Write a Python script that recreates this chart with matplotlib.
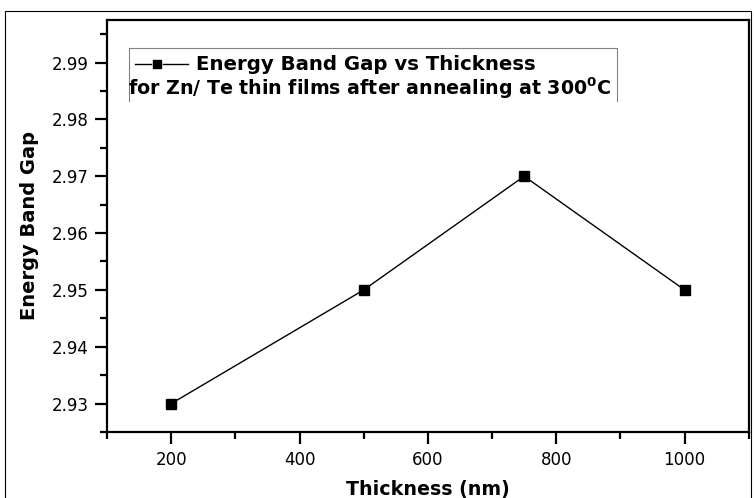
import matplotlib
matplotlib.use('Agg')
import matplotlib.pyplot as plt
from matplotlib.patches import Rectangle
from matplotlib.ticker import MultipleLocator

plt.rcParams['font.family'] = ['DejaVu Sans']

# data
thickness = [200, 500, 750, 1000]
band_gap = [2.93, 2.95, 2.97, 2.95]
x_ticks = [200, 400, 600, 800, 1000]
y_ticks = [2.93, 2.94, 2.95, 2.96, 2.97, 2.98, 2.99]

fig = plt.figure(figsize=(7.54, 4.98), dpi=100)
ax = fig.add_axes([0.142, 0.1325, 0.851, 0.8275])

# thin frame round the whole picture
fig.patches.append(Rectangle((0.0066, -0.01), 0.99, 0.988, transform=fig.transFigure,
                             fill=False, edgecolor='black', linewidth=0.8))

ax.plot(thickness, band_gap, color='black', linewidth=1.0, marker='s',
        markersize=7, markerfacecolor='black', markeredgecolor='black')

ax.set_xlim(100, 1100)
ax.set_ylim(2.925, 2.9975)
ax.set_xticks(x_ticks)
ax.set_yticks(y_ticks)
ax.set_yticklabels([f'{v:.2f}' for v in y_ticks])
ax.xaxis.set_minor_locator(MultipleLocator(100))
ax.yaxis.set_minor_locator(MultipleLocator(0.005))

for s in ['top', 'right', 'bottom', 'left']:
    ax.spines[s].set_linewidth(1.6)
ax.tick_params(which='major', direction='out', length=8.5, width=1.6, labelsize=12, pad=5)
ax.tick_params(which='minor', direction='out', length=5, width=1.6)

ax.set_xlabel('Thickness (nm)', fontsize=13.7, fontweight='bold', labelpad=8)
ax.set_ylabel('Energy Band Gap', fontsize=14, fontweight='bold', labelpad=9)

# legend box (open at the bottom, like the original)
box_x0, box_x1, box_y0, box_y1 = 0.034, 0.794, 0.803, 0.932
ax.plot([box_x0, box_x0, box_x1, box_x1], [box_y0, box_y1, box_y1, box_y0],
        transform=ax.transAxes, color='gray', linewidth=0.8, clip_on=False)
ax.plot([0.0436, 0.069], [0.893, 0.893], transform=ax.transAxes, color='black', linewidth=1.0)
ax.plot([0.087, 0.126], [0.893, 0.893], transform=ax.transAxes, color='black', linewidth=1.0)
ax.plot([0.0779], [0.893], transform=ax.transAxes, marker='s', markersize=5.5, color='black')
ax.text(0.1386, 0.893, 'Energy Band Gap vs Thickness', transform=ax.transAxes,
        fontsize=14.2, fontweight='bold', va='center', ha='left')
ax.text(0.033, 0.833, 'for Zn/ Te thin films after annealing at 300$^{\\mathbf{0}}$C',
        transform=ax.transAxes, fontsize=13.7, fontweight='bold', va='center', ha='left')

fig.savefig('out.png', dpi=100)
